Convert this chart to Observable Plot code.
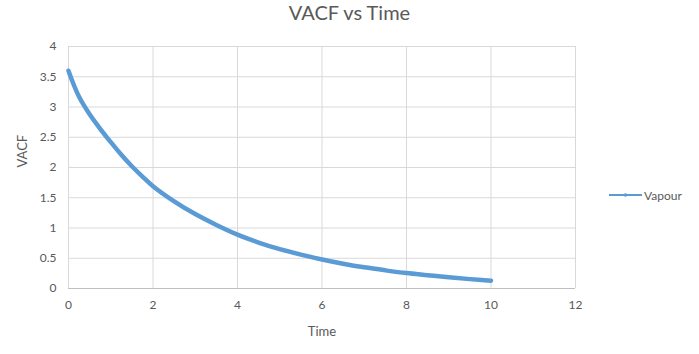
<!DOCTYPE html>
<html>
<head>
<meta charset="utf-8">
<script src="https://cdn.jsdelivr.net/npm/d3@7"></script>
<script src="https://cdn.jsdelivr.net/npm/@observablehq/plot@0.6"></script>
<style>
  html, body { margin: 0; padding: 0; background: #fff; }
  #wrap { position: relative; width: 699px; height: 354px; font-family: Lato, "Open Sans", sans-serif; }
  #title { position: absolute; left: 0; width: 699px; top: 0px; text-align: center; font-size: 20px; color: #595959; }
  #legend { position: absolute; left: 609px; top: 186px; display: flex; align-items: center; font-size: 12px; color: #595959; }
</style>
</head>
<body>
<div id="wrap">
  <div id="chart"></div>
  <div id="title">VACF vs Time</div>
  <div id="legend">
    <svg width="34" height="18"><line x1="0" y1="9" x2="33" y2="9" stroke="#5b9bd5" stroke-width="2"/><circle cx="16.5" cy="9" r="1.8" fill="#5b9bd5"/></svg>
    <span style="margin-left:1px">Vapour</span>
  </div>
</div>
<script>
const seriesName = "Vapour";
const time = [0, 0.1, 0.25, 0.5, 0.75, 1, 1.25, 1.5, 1.75, 2, 2.5, 3, 3.5, 4, 4.5, 5, 5.5, 6, 6.5, 7, 7.5, 8, 8.5, 9, 9.5, 10];
const vacf = [3.60, 3.41, 3.17, 2.88, 2.64, 2.42, 2.21, 2.02, 1.85, 1.69, 1.44, 1.23, 1.05, 0.89, 0.76, 0.65, 0.56, 0.48, 0.41, 0.35, 0.30, 0.255, 0.22, 0.185, 0.155, 0.13];
const xTicks = [0, 2, 4, 6, 8, 10, 12];
const yTicks = [0, 0.5, 1, 1.5, 2, 2.5, 3, 3.5, 4];

const data = time.map((t, i) => ({t, v: vacf[i]}));

const chart = Plot.plot({
  width: 699,
  height: 354,
  marginLeft: 68,
  marginRight: 124,
  marginTop: 46,
  marginBottom: 66,
  style: {fontFamily: "Lato, 'Open Sans', sans-serif", fontSize: "12px", color: "#595959", background: "#fff"},
  x: {domain: [0, 12], ticks: xTicks, label: null},
  y: {domain: [0, 4], ticks: yTicks, label: null},
  marks: [
    Plot.gridX(xTicks, {stroke: "#d9d9d9", strokeOpacity: 1, strokeWidth: 1}),
    Plot.gridY(yTicks, {stroke: "#d9d9d9", strokeOpacity: 1, strokeWidth: 1}),
    Plot.ruleY([0], {stroke: "#bfbfbf", strokeWidth: 1}),
    Plot.axisX({ticks: xTicks, tickSize: 0, tickPadding: 12, fill: "#595959", fontSize: 12, label: null}),
    Plot.axisY({ticks: yTicks, tickSize: 0, tickPadding: 12, fill: "#595959", fontSize: 12, label: null, tickFormat: d => String(d)}),
    Plot.line(data, {x: "t", y: "v", stroke: "#5b9bd5", strokeWidth: 4.5, curve: "catmull-rom"}),
    Plot.text(["Time"], {frameAnchor: "bottom", dy: 38, fill: "#595959", fontSize: 13, lineAnchor: "top"}),
    Plot.text(["VACF"], {frameAnchor: "left", dx: -46, dy: 0, rotate: -90, fill: "#595959", fontSize: 13})
  ]
});
document.getElementById("chart").appendChild(chart);
</script>
</body>
</html>
